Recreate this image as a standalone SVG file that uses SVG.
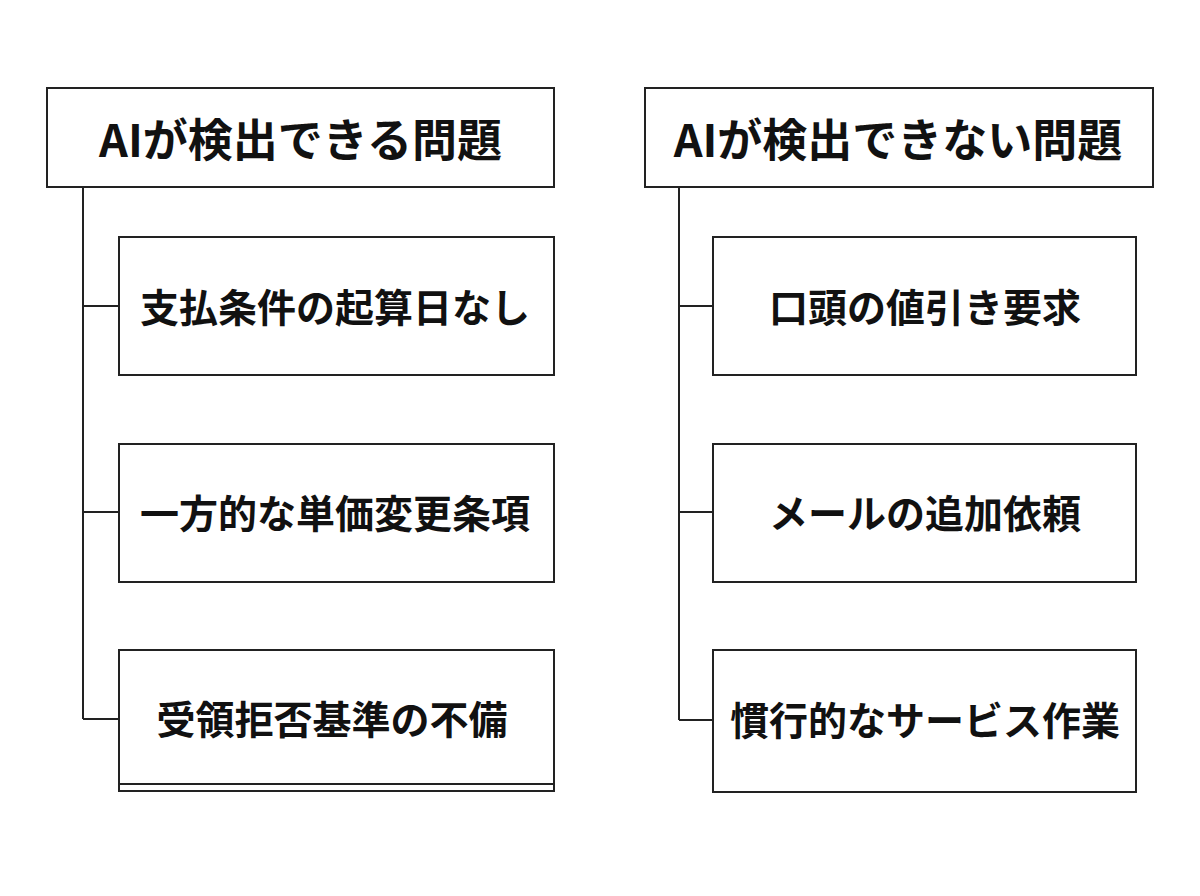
<svg xmlns="http://www.w3.org/2000/svg" width="1200" height="896" viewBox="0 0 1200 896">
<style>
.box{fill:#fff;stroke:#222;stroke-width:2}
.ln{fill:none;stroke:#222;stroke-width:2}
.h{font-family:"Noto Sans CJK JP","Noto Sans",sans-serif;font-weight:700;font-size:45px;fill:#111;text-anchor:middle;dominant-baseline:central}
.c{font-family:"Noto Sans CJK JP","Noto Sans",sans-serif;font-weight:700;font-size:39px;fill:#111;text-anchor:middle;dominant-baseline:central}
</style>
<rect width="1200" height="896" fill="#fff"/>
<g id="connectors">
<path class="ln" d="M83 187V719M83 306H119M83 512H119M83 719H119"/>
<path class="ln" d="M679 187V720M679 306H713M679 512H713M679 720H713"/>
</g>
<g id="left-header"><rect class="box" x="47" y="88" width="507" height="99"/><text class="h" x="300.5" y="137">AIが検出できる問題</text></g>
<g id="left-1"><rect class="box" x="119" y="237" width="435" height="138"/><text class="c" x="335" y="305">支払条件の起算日なし</text></g>
<g id="left-2"><rect class="box" x="119" y="444" width="435" height="138"/><text class="c" x="335" y="511">一方的な単価変更条項</text></g>
<g id="left-3"><rect class="box" x="119" y="650" width="435" height="141"/><line class="ln" x1="119" y1="784" x2="554" y2="784"/><text class="c" x="332" y="717">受領拒否基準の不備</text></g>
<g id="right-header"><rect class="box" x="645" y="88" width="508" height="99"/><text class="h" x="898" y="137">AIが検出できない問題</text></g>
<g id="right-1"><rect class="box" x="713" y="237" width="423" height="138"/><text class="c" x="925" y="305">口頭の値引き要求</text></g>
<g id="right-2"><rect class="box" x="713" y="444" width="423" height="138"/><text class="c" x="925" y="511">メールの追加依頼</text></g>
<g id="right-3"><rect class="box" x="713" y="650" width="423" height="142"/><text class="c" x="925" y="718">慣行的なサービス作業</text></g>
</svg>
